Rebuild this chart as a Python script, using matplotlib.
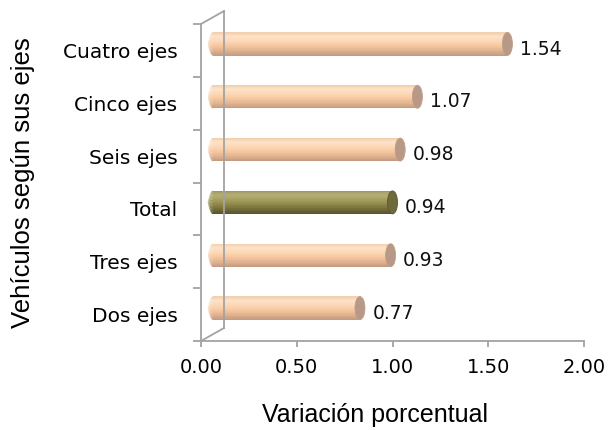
import matplotlib
matplotlib.use("Agg")
import matplotlib.pyplot as plt
import matplotlib.transforms as mtransforms
from matplotlib.patches import Ellipse
from matplotlib.colors import to_rgb
import numpy as np

# data (bottom to top)
categories = ["Dos ejes", "Tres ejes", "Total", "Seis ejes", "Cinco ejes", "Cuatro ejes"]
values = [0.77, 0.93, 0.94, 0.98, 1.07, 1.54]
highlight = "Total"
xticks = [0.0, 0.5, 1.0, 1.5, 2.0]

peach = ["#f2cfae", "#fde2c7", "#fcdabb", "#f9cfa6", "#efc09a", "#ddb08e", "#c59c82"]
peach_cap = "#b7998a"
olive = ["#9f995e", "#b6af75", "#aaa368", "#99924f", "#857f45", "#6f6a38", "#5a562c"]
olive_cap = "#6e6a3c"
gray = "#a3a3a3"


def ramp(keys, n):
    keys = np.array([to_rgb(k) for k in keys])
    t = np.linspace(0, 1, len(keys))
    s = np.linspace(0, 1, n)
    return [tuple(np.interp(v, t, keys[:, j]) for j in range(3)) for v in s]


fig = plt.figure(figsize=(6.08, 4.30), dpi=100)
ax = fig.add_axes([201 / 608, 89 / 430, 383 / 608, 317 / 430])
ax.set_xlim(0, 2)
ax.set_ylim(-0.5, len(categories) - 0.5)

px = 1 / 100
mid = ax.transData + mtransforms.ScaledTranslation(11.5 * px, 6.5 * px, fig.dpi_scale_trans)
back = ax.transData + mtransforms.ScaledTranslation(23 * px, 13 * px, fig.dpi_scale_trans)

# back wall (drawn over the bars, as in the original)
y0, y1 = -0.5, len(categories) - 0.5
ax.plot([0, 0], [y0, y1], color=gray, lw=1.3, transform=back, clip_on=False, zorder=6)
for yy in (y0, y1):
    p0 = ax.transData.transform((0, yy))
    p1 = back.transform((0, yy))
    fig.add_artist(plt.Line2D([p0[0] / 608, p1[0] / 608], [p0[1] / 430, p1[1] / 430],
                              color=gray, lw=1.3, transform=fig.transFigure))

h = 0.435
n = 30
cap_w = 10 / 191.5
for i, (cat, v) in enumerate(zip(categories, values)):
    keys = olive if cat == highlight else peach
    capc = olive_cap if cat == highlight else peach_cap
    cols = ramp(keys, n)
    # rounded near end, drawn as thin gradient ellipses
    for k in range(n):
        yk = i + h / 2 - (k + 0.5) * h / n
        frac = 1 - abs(2 * (k + 0.5) / n - 1)
        ax.add_patch(Ellipse((0, yk), cap_w * np.sqrt(frac), h / n * 1.3, facecolor=cols[k],
                             edgecolor="none", transform=mid, zorder=2))
    for k in range(n):
        yk = i + h / 2 - (k + 0.5) * h / n
        ax.barh(yk, v, height=h / n * 1.3, left=0, color=cols[k], linewidth=0,
                transform=mid, zorder=3)
    ax.add_patch(Ellipse((v, i), cap_w, h, facecolor=capc, edgecolor=cols[-1], lw=0.6,
                         transform=mid, zorder=4))
    ax.annotate(f"{v:.2f}", xy=(v, i), xytext=(24 * 0.72, 1.0), textcoords="offset points",
                va="center", ha="left", fontsize=13.5, family="DejaVu Sans", color="#111111")

for s in ("top", "right"):
    ax.spines[s].set_visible(False)
for s in ("left", "bottom"):
    ax.spines[s].set_color(gray)
    ax.spines[s].set_linewidth(1.3)

ax.set_yticks(range(len(categories)))
ax.set_yticklabels(categories, fontsize=14.5, family="DejaVu Sans")
ax.set_yticks(np.arange(-0.5, len(categories), 1), minor=True)
ax.tick_params(axis="y", which="major", length=0, pad=17)
ax.tick_params(axis="y", which="minor", length=6, width=1.3, color=gray)

ax.set_xticks(xticks)
ax.set_xticklabels([f"{t:.2f}" for t in xticks], fontsize=14, family="DejaVu Sans")
ax.tick_params(axis="x", length=4, width=1.3, color=gray, pad=8)

ax.set_xlabel("Variación porcentual", fontsize=18, family="Liberation Sans")
ax.xaxis.set_label_coords(0.454, -0.196)
ax.set_ylabel("Vehículos según sus ejes", fontsize=18.5, family="Liberation Sans")
ax.yaxis.set_label_coords(-0.433, 0.5)

fig.savefig("out.png", dpi=100)
